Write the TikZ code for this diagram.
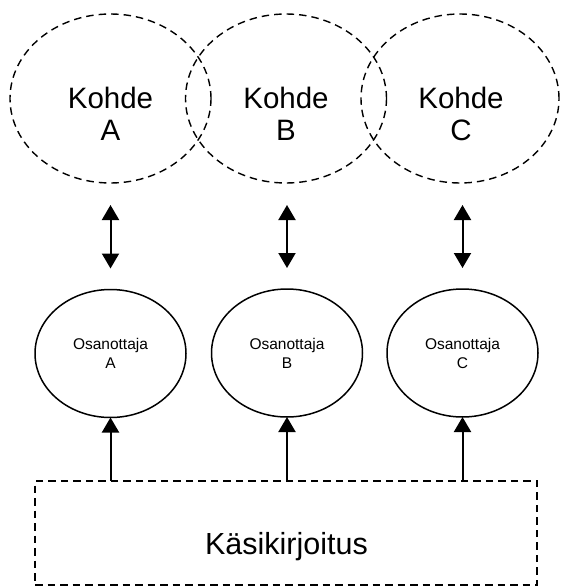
\documentclass[tikz,border=0pt]{standalone}
\usepackage{fontspec}
\setmainfont{Liberation Sans}
\usetikzlibrary{shapes.geometric,arrows.meta}
\tikzset{
  target/.style={ellipse,draw,line width=1.4pt,dash pattern=on 7.5pt off 5pt,minimum width=201pt,minimum height=169pt,inner sep=0pt,outer sep=0pt},
  part/.style={ellipse,draw,line width=1.5pt,minimum width=151pt,minimum height=128pt,inner sep=0pt,outer sep=0pt},
  bigtxt/.style={align=center,inner sep=0pt,font=\fontsize{29.5}{32}\selectfont},
  smalltxt/.style={align=center,inner sep=0pt,font=\fontsize{15.5}{19}\selectfont},
  dbl/.style={line width=2pt,{Triangle[width=17pt,length=15pt]}-{Triangle[width=17pt,length=15pt]},shorten <=22pt,shorten >=21pt},
  uparr/.style={line width=2pt,-{Triangle[width=17pt,length=15pt]}},
  boxstyle/.style={draw,line width=1.5pt,dash pattern=on 7.5pt off 5pt,minimum width=502pt,minimum height=104pt,inner sep=0pt,outer sep=0pt}
}
\begin{document}
\begin{tikzpicture}[x=1pt,y=-1pt]
\useasboundingbox (0,0) rectangle (561,586);
\node[target] (kA) at (110.5,98.5) {};
\node[target] (kB) at (286,98.5) {};
\node[target,minimum width=198pt] (kC) at (460,98.5) {};
\node[bigtxt] (tA) at (110.5,113.5) {Kohde\\A};
\node[bigtxt] (tB) at (286,113.5) {Kohde\\B};
\node[bigtxt] (tC) at (461,113.5) {Kohde\\C};
\node[part] (oA) at (110.5,353.5) {};
\node[part] (oB) at (287,353) {};
\node[part] (oC) at (462.5,353) {};
\node[smalltxt] (sA) at (110.5,353.5) {Osanottaja\\A};
\node[smalltxt] (sB) at (287,353) {Osanottaja\\B};
\node[smalltxt] (sC) at (462.5,353) {Osanottaja\\C};
\node[boxstyle] (box) at (286,533) {};
\node[inner sep=0pt,font=\fontsize{30.5}{34}\selectfont] (bt) at (286.5,546.5) {Käsikirjoitus};
\draw[dbl] (kA.south -| oA.north) -- (oA.north);
\draw[dbl] (kB.south -| oB.north) -- (oB.north);
\draw[dbl] (kC.south -| oC.north) -- (oC.north);
\draw[uparr] (box.north -| oA.south) -- (oA.south);
\draw[uparr] (box.north -| oB.south) -- (oB.south);
\draw[uparr] (box.north -| oC.south) -- (oC.south);
\end{tikzpicture}
\end{document}
